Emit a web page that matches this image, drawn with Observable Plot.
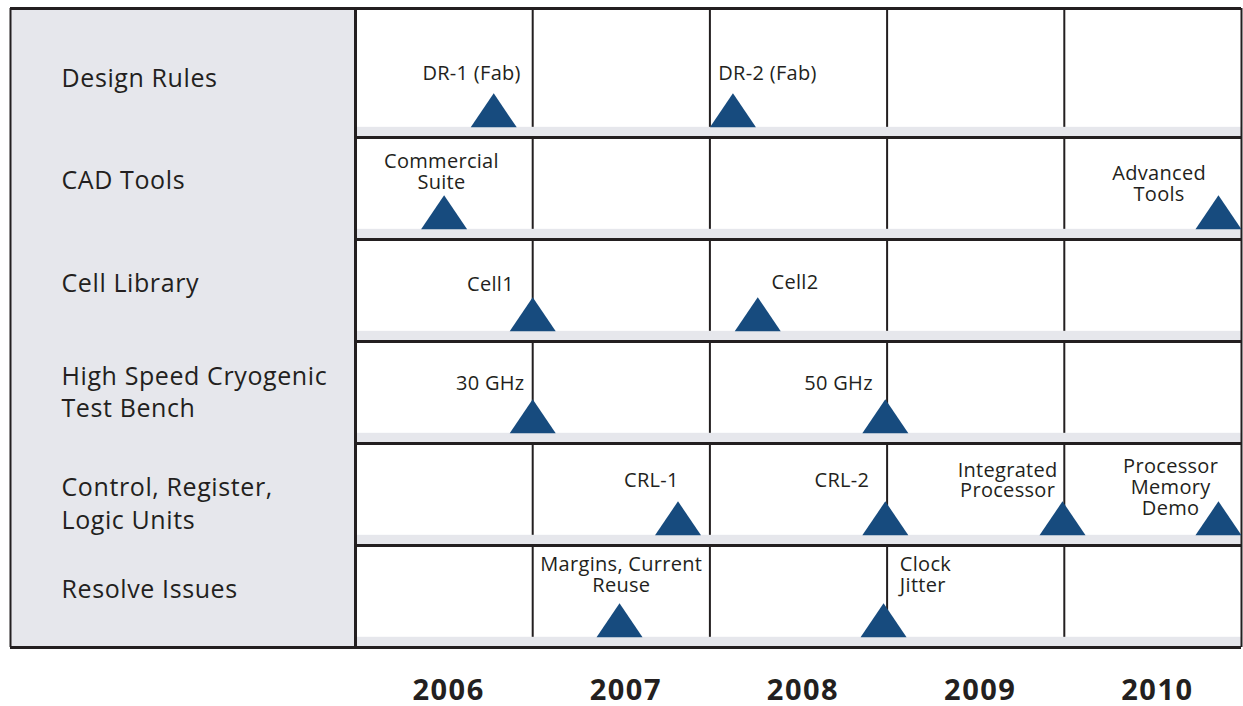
<!DOCTYPE html>
<html>
<head>
<meta charset="utf-8">
<script src="https://cdn.jsdelivr.net/npm/d3@7"></script>
<script src="https://cdn.jsdelivr.net/npm/@observablehq/plot@0.6"></script>
<style>
  body { margin: 0; background: #ffffff; }
  #chart svg { display: block; overflow: visible; }
  #chart g[aria-description="row labels"] text { letter-spacing: 0.6px; }
  #chart g[aria-description="milestone labels"] text { letter-spacing: 0.3px; }
  #chart g[aria-label="x-axis tick label"] text { letter-spacing: 1.5px; }
</style>
</head>
<body>
<div id="chart"></div>
<script>
// ---------- data ----------
const years = [2006, 2007, 2008, 2009, 2010];
const yearLabels = ["2006", "2007", "2008", "2009", "2010"];
const rowNames = [
  "Design Rules",
  "CAD Tools",
  "Cell Library",
  "High Speed Cryogenic\nTest Bench",
  "Control, Register,\nLogic Units",
  "Resolve Issues"
];
// where each row name sits (fraction of the row height)
const rowLabelLevel = [0.405, 0.405, 0.414, 0.481, 0.574, 0.414];

const milestoneRow = [0, 0, 1, 1, 2, 2, 3, 3, 4, 4, 4, 4, 5, 5];
const milestoneDate = [2006.78, 2008.13, 2006.5, 2010.87, 2007.0, 2008.27, 2007.0, 2008.99, 2007.82, 2008.99, 2009.99, 2010.87, 2007.49, 2008.98];
const milestoneLabel = [
  "DR-1 (Fab)", "DR-2 (Fab)",
  "Commercial\nSuite", "Advanced\nTools",
  "Cell1", "Cell2",
  "30 GHz", "50 GHz",
  "CRL-1", "CRL-2", "Integrated\nProcessor", "Processor\nMemory\nDemo",
  "Margins, Current\nReuse", "Clock\nJitter"
];
// where each label sits (date along the timeline, fraction of the row height)
const labelDate = [2006.655, 2008.325, 2006.485, 2010.535, 2006.762, 2008.48, 2006.76, 2008.726, 2007.67, 2008.745, 2009.68, 2010.60, 2007.50, 2009.072];
const labelLevel = [0.372, 0.372, 0.338, 0.451, 0.441, 0.421, 0.411, 0.411, 0.362, 0.362, 0.362, 0.431, 0.289, 0.289];
const labelAlign = ["middle", "middle", "middle", "middle", "middle", "middle", "middle", "middle", "middle", "middle", "middle", "middle", "middle", "start"];

// ---------- layout constants ----------
const panelYears = 1.947;          // width of the label panel, in year columns
const xStart = years[0] - panelYears;
const xEnd = years[years.length - 1] + 1;
const topExtra = 0.265;            // first row is a bit taller
const bandDepth = 0.1;             // grey ground band at bottom of each row
const nRows = rowNames.length;

const gray = "#e6e7ec";
const ink = "#231f20";
const blue = "#174b7e";

const rows = rowNames.map((name, i) => ({name, i, level: i + rowLabelLevel[i]}));
const milestones = milestoneDate.map((d, k) => ({
  date: d, row: milestoneRow[k], label: milestoneLabel[k],
  lx: labelDate[k], ly: milestoneRow[k] + labelLevel[k], anchor: labelAlign[k]
}));

const triangle = {
  draw(ctx) {
    const w = 23, h = 34;
    ctx.moveTo(-w, 0);
    ctx.lineTo(w, 0);
    ctx.lineTo(0, -h);
    ctx.closePath();
  }
};

const labelOpts = {x: "lx", y: "ly", text: "label", fontSize: 20, lineHeight: 1.04, fill: ink, ariaDescription: "milestone labels"};

const plot = Plot.plot({
  width: 1243,
  height: 706,
  marginLeft: 10,
  marginRight: 2,
  marginTop: 8,
  marginBottom: 59,
  x: {domain: [xStart, xEnd], axis: null},
  y: {domain: [-topExtra, nRows], reverse: true, axis: null},
  style: {fontFamily: "'Open Sans', 'Noto Sans', sans-serif", color: ink, background: "#ffffff"},
  marks: [
    // label panel
    Plot.rect([0], {x1: xStart, x2: years[0], y1: -topExtra, y2: nRows, fill: gray}),
    // year column lines
    Plot.ruleX(years.slice(1), {y1: -topExtra, y2: nRows, stroke: ink, strokeWidth: 2}),
    // ground bands
    Plot.rect(rows, {x1: years[0], x2: xEnd, y1: d => d.i + 1 - bandDepth, y2: d => d.i + 1, fill: gray}),
    // row separators
    Plot.ruleY(rows.slice(0, -1), {y: d => d.i + 1, x1: years[0], x2: xEnd, stroke: ink, strokeWidth: 3}),
    // outer frame
    Plot.ruleY([-topExtra, nRows], {x1: xStart, x2: xEnd, stroke: ink, strokeWidth: 3}),
    Plot.ruleX([xStart, xEnd], {y1: -topExtra, y2: nRows, stroke: ink, strokeWidth: 2}),
    Plot.ruleX([years[0]], {y1: -topExtra, y2: nRows, stroke: ink, strokeWidth: 3}),
    // milestones
    Plot.dot(milestones, {x: "date", y: d => d.row + 1 - bandDepth, symbol: triangle, r: 10, fill: blue, stroke: null}),
    Plot.text(milestones.filter(d => d.anchor === "middle"), {...labelOpts, textAnchor: "middle"}),
    Plot.text(milestones.filter(d => d.anchor === "start"), {...labelOpts, textAnchor: "start"}),
    // row labels
    Plot.text(rows, {
      x: xStart, y: "level", text: "name", textAnchor: "start", dx: 51,
      fontSize: 25, lineHeight: 1.3, fill: ink, ariaDescription: "row labels"
    }),
    // year axis
    Plot.axisX(years.map(y => y + 0.5), {
      anchor: "bottom", tickSize: 0, tickPadding: 32,
      tickFormat: d => yearLabels[years.indexOf(Math.floor(d))],
      fontSize: 29, fontWeight: "bold", fill: ink, label: null, dx: 4.5
    })
  ]
});
document.getElementById("chart").append(plot);
</script>
</body>
</html>
